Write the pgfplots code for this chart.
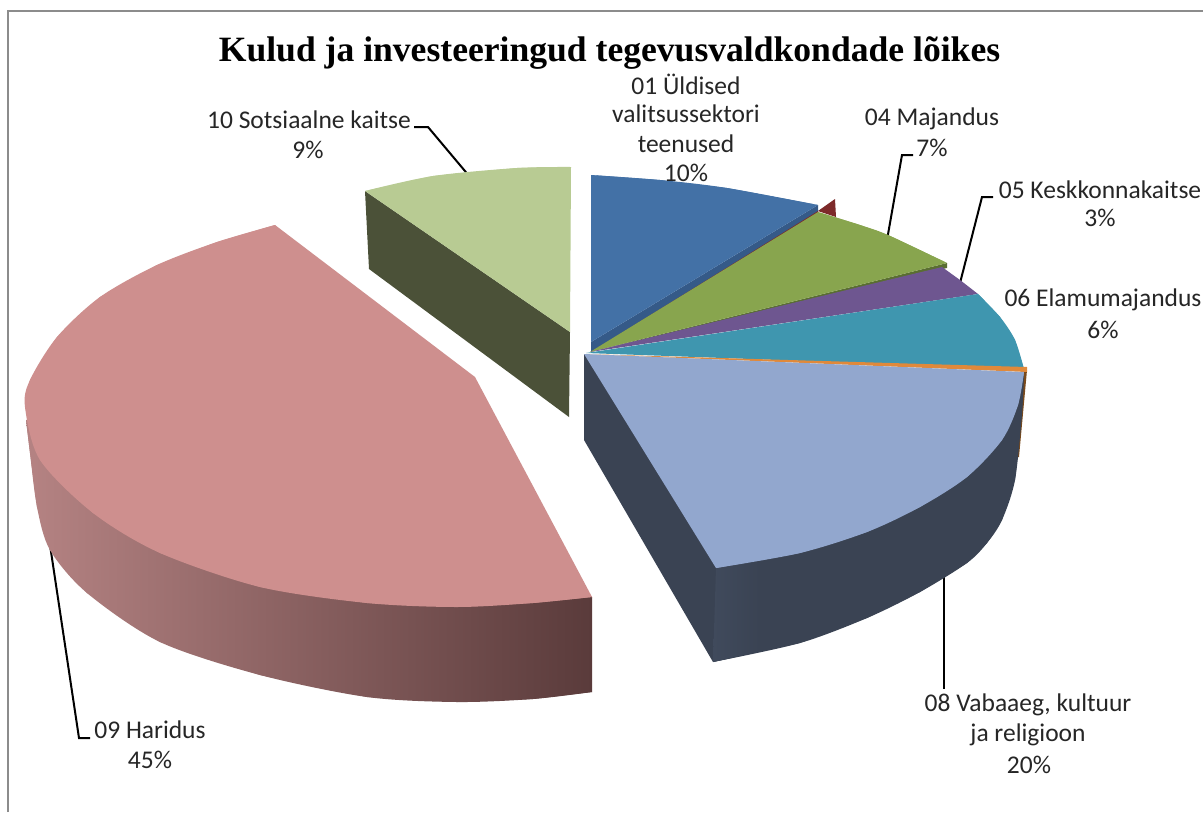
\documentclass[border=0pt]{standalone}
\usepackage{pgfplots}
\pgfplotsset{compat=1.18}
\usepackage{fontspec}
\setmainfont{Carlito}
\newfontfamily\titlefont{Liberation Serif}
\definecolor{txt}{HTML}{262626}
\definecolor{pinktop}{HTML}{CE8F8E}
\definecolor{pinkl}{HTML}{B58383}
\definecolor{pinkr}{HTML}{5A3B3B}
\definecolor{lgreen}{HTML}{B8CB93}
\definecolor{lgreend}{HTML}{4B5138}
\definecolor{blue1}{HTML}{4371A6}
\definecolor{blue1d}{HTML}{355A88}
\definecolor{red1}{HTML}{7D2A2A}
\definecolor{green1}{HTML}{88A54E}
\definecolor{green1d}{HTML}{5A6E32}
\definecolor{purp}{HTML}{6E5690}
\definecolor{teal1}{HTML}{3F96AF}
\definecolor{orange1}{HTML}{E0893A}
\definecolor{brown1}{HTML}{7A4A1C}
\definecolor{bluegray}{HTML}{92A7CE}
\definecolor{slate}{HTML}{3A4353}
\definecolor{slatel}{HTML}{404A5C}
\definecolor{frame}{HTML}{8C8C8C}
\newcommand{\lab}[3]{\node[anchor=center,text=txt,font=\fontsize{25.5}{28}\selectfont,inner sep=0pt] at (axis cs:#1,#2) {#3};}
\begin{document}
\begin{tikzpicture}
\begin{axis}[
  width=1203pt,height=812pt,scale only axis,
  xmin=0,xmax=1203,ymin=0,ymax=812,y dir=reverse,
  axis lines=none,clip=true]
% page background
\addplot[draw=none,fill=white] coordinates {(0,0)(1203,0)(1203,812)(0,812)} --cycle;
% frame
\addplot[draw=frame,line width=2.4pt] coordinates {(8,812)(8,11)(1203,11)};
% leaders
\addplot[draw=black,line width=2pt] coordinates {(414,127)(428,127)(470,177)};
\addplot[draw=black,line width=2pt] coordinates {(913,155)(902,155)(887,240)};
\addplot[draw=black,line width=2pt] coordinates {(993,197)(982,197)(959,287)};
\addplot[draw=black,line width=2pt] coordinates {(944,575)(944,689)};
\addplot[draw=black,line width=2pt] coordinates {(90,738)(79,738)(50,545)};
% pink side
\addplot[draw=none,left color=pinkl,right color=pinkr] coordinates {
(26,420)(30,453)(37,507)(50,550)(87,593)(160,642)(260,675)(367,697)(457,702)(533,699)(592,692)(592,597)(475,500)(200,400)} --cycle;
\addplot[draw=none,smooth,left color=pinkl,right color=pinkr] coordinates {
(26,420)(30,453)(37,507)(50,550)(87,593)(160,642)(260,675)(367,697)(457,702)(533,699)(592,692)} --cycle;
% pink top
\addplot[draw=none,fill=pinktop] coordinates {
(275,225)(217,242)(157,265)(100,297)(57,337)(30,380)(25,407)(40,460)(93,513)(160,553)(260,587)(367,603)(457,607)(533,603)(592,597)(475,377)} --cycle;
\addplot[draw=none,smooth,fill=pinktop] coordinates {
(275,225)(217,242)(157,265)(100,297)(57,337)(30,380)(25,407)(40,460)(93,513)(160,553)(260,587)(367,603)(457,607)(533,603)(592,597)} --cycle;
% light green
\addplot[draw=none,fill=lgreend] coordinates {(365,191)(570,332)(569,417)(369,269)} --cycle;
\addplot[draw=none,fill=lgreen] coordinates {(365,191)(433,176)(517,168)(571,167)(570,332)} --cycle;
\addplot[draw=none,smooth,fill=lgreen] coordinates {(365,191)(433,176)(517,168)(571,167)} --cycle;
% red tip
\addplot[draw=none,fill=red1] coordinates {(818,211)(835,199)(836,217)} --cycle;
% blue
\addplot[draw=none,fill=blue1d] coordinates {(591,342)(818,205)(818,212)(591,352)} --cycle;
\addplot[draw=none,fill=blue1] coordinates {(591,175)(660,180)(727,188)(818,205)(591,342)} --cycle;
\addplot[draw=none,smooth,fill=blue1] coordinates {(591,175)(660,180)(727,188)(818,205)} --cycle;
\addplot[draw=none,fill=red1] coordinates {(591,352)(818,211)(818,213)} --cycle;
% green
\addplot[draw=none,fill=green1d] coordinates {(590,352)(947,263)(947,268)} --cycle;
\addplot[draw=none,fill=green1] coordinates {(590,352)(818,212)(860,225)(888,235)(947,263)} --cycle;
\addplot[draw=none,smooth,fill=green1] coordinates {(818,212)(860,225)(888,235)(947,263)} --cycle;
% purple
\addplot[draw=none,fill=purp] coordinates {(590,352)(942,267)(960,280)(978,294)} --cycle;
% teal
\addplot[draw=none,fill=teal1] coordinates {(586,353)(978,294)(1000,317)(1015,340)(1024,369)} --cycle;
\addplot[draw=none,smooth,fill=teal1] coordinates {(978,294)(1000,317)(1015,340)(1024,369)} --cycle;
% brown
\addplot[draw=none,fill=brown1] coordinates {(1027,370)(1019,457)(1017,457)(1023,370)} --cycle;
% slate side
\addplot[draw=none,fill=slate] coordinates {
(584,354)(584,440)(713,662)(800,643)(867,618)(920,592)(967,563)(987,543)(1002,520)(1015,480)(1022,413)(1024,372)(800,450)} --cycle;
\addplot[draw=none,smooth,fill=slate] coordinates {
(713,662)(800,643)(867,618)(920,592)(967,563)(987,543)(1002,520)(1015,480)(1022,413)(1024,372)} --cycle;
\addplot[draw=none,left color=slatel,right color=slate] coordinates {(716,568)(713,662)(760,651)(760,560)} --cycle;
% orange
\addplot[draw=none,fill=orange1] coordinates {(584,354)(1027,367)(1027,372)} --cycle;
% blue-grey top
\addplot[draw=none,fill=bluegray] coordinates {
(584,354)(1024,372)(1018,405)(1002,440)(967,477)(920,507)(867,532)(800,553)(716,568)} --cycle;
\addplot[draw=none,smooth,fill=bluegray] coordinates {
(1024,372)(1018,405)(1002,440)(967,477)(920,507)(867,532)(800,553)(716,568)} --cycle;
% texts
\node[anchor=center,text=black,font=\titlefont\bfseries\fontsize{35.6}{40}\selectfont,inner sep=0pt] at (axis cs:609.5,53) {Kulud ja investeeringud tegevusvaldkondade lõikes};
\lab{686}{84}{01 Üldised}
\lab{686}{114}{valitsussektori}
\lab{686}{144}{teenused}
\lab{686}{173}{10\%}
\lab{932}{119}{04 Majandus}
\lab{932}{148}{7\%}
\lab{1100}{190}{05 Keskkonnakaitse}
\lab{1100}{218}{3\%}
\lab{1103}{300}{06 Elamumajandus}
\lab{1103}{330}{6\%}
\lab{1028}{705}{08 Vabaaeg, kultuur}
\lab{1028}{735}{ja religioon}
\lab{1029}{765}{20\%}
\lab{150}{730}{09 Haridus}
\lab{150}{760}{45\%}
\lab{309}{120}{10 Sotsiaalne kaitse}
\lab{308}{150}{9\%}
\end{axis}
\end{tikzpicture}
\end{document}
